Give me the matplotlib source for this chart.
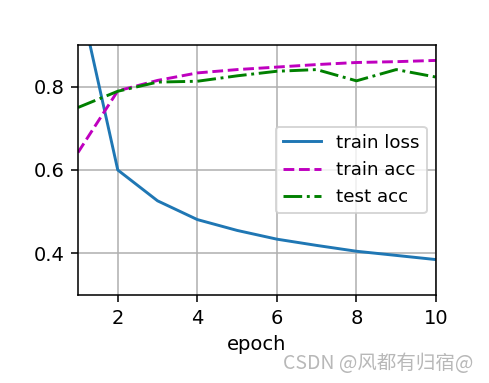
import numpy as np
import matplotlib
matplotlib.use('Agg')
import matplotlib.pyplot as plt

epochs = [1, 2, 3, 4, 5, 6, 7, 8, 9, 10]
train_loss = [1.03, 0.600, 0.526, 0.481, 0.455, 0.434, 0.419, 0.405, 0.395, 0.385]
train_acc = [0.642, 0.790, 0.815, 0.833, 0.841, 0.847, 0.853, 0.858, 0.860, 0.863]
test_acc = [0.750, 0.789, 0.811, 0.813, 0.826, 0.837, 0.841, 0.814, 0.841, 0.823]

dpi = 140
fig = plt.figure(figsize = (489/dpi, 383/dpi), dpi = dpi)
ax = fig.add_axes([78/489, 1-295/383, (436-78)/489, (295-45)/383])

ax.plot(epochs, train_loss, '-', color = '#1f77b4', label = 'train loss')
ax.plot(epochs, train_acc, 'm--', label = 'train acc')
ax.plot(epochs, test_acc, 'g-.', label = 'test acc')

ax.set_xlim(1, 10)
ax.set_ylim(0.3, 0.9)
ax.set_xticks([2, 4, 6, 8, 10])
ax.set_yticks([0.4, 0.6, 0.8])
ax.set_xlabel('epoch')
ax.grid(True)
ax.legend(loc = 'center right', fontsize = 9.4, handlelength = 2.1)

# watermark
fig.text(0.969, 0.052, 'CSDN @风都有归宿@', ha = 'right', va = 'center', color = '#b8b8b8',
         fontsize = 10, family = ['Noto Sans CJK SC', 'DejaVu Sans'])

fig.savefig('out.png', dpi = dpi)
